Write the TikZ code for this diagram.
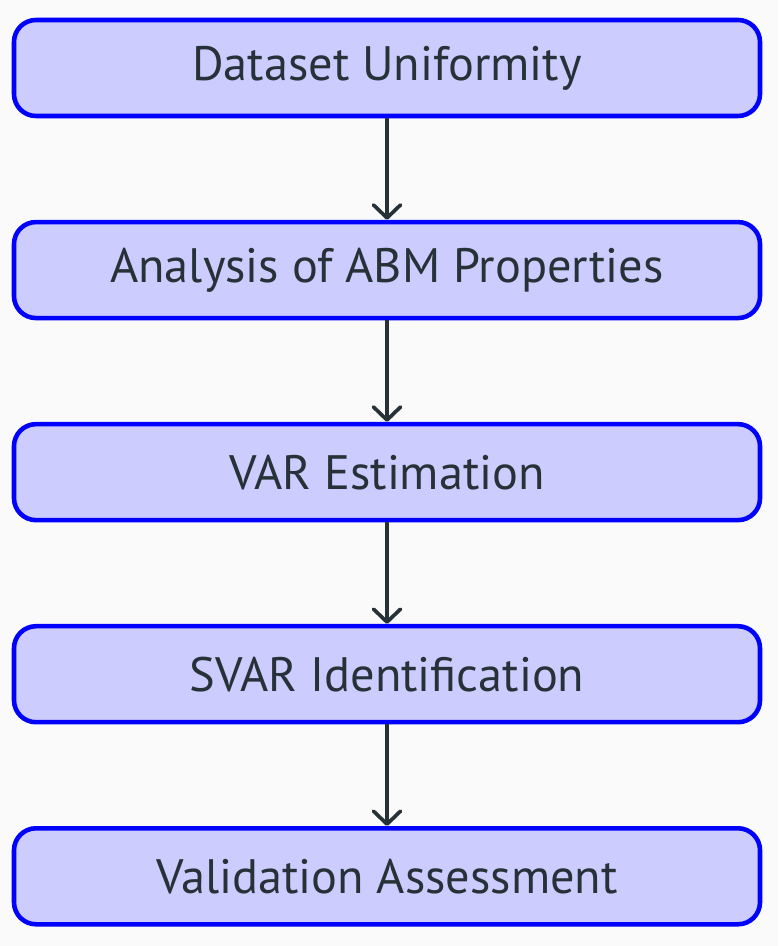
\documentclass[tikz,border=0pt]{standalone}
\usepackage{fontspec}
\setmainfont{PT Sans}
\usepackage{tikz}
\usetikzlibrary{arrows.meta,positioning}
\definecolor{bgcol}{HTML}{FAFAFA}
\definecolor{inkcol}{HTML}{263238}

\begin{document}
\begin{tikzpicture}[
    stagebox/.style={draw=blue, line width=2.6pt, fill=blue!20, rounded corners=0.44cm,
      minimum width=14.92cm, minimum height=1.92cm, font=\fontsize{27.5}{32}\selectfont,
      text=inkcol},
    flowarrow/.style={draw=inkcol, line width=2.1pt,
      -{Straight Barb[length=2.6mm, width=5.4mm, round]}},
    node distance=2.03cm
  ]
  %% canvas
  \fill[bgcol] (0,0) rectangle (15.56,-18.92);
  \useasboundingbox (0,0) rectangle (15.56,-18.92);

  %% stages
  \node[stagebox] (uniform) at (7.74,-1.36) {Dataset Uniformity};
  \node[stagebox, below=of uniform] (abm) {Analysis of ABM Properties};
  \node[stagebox, below=of abm] (var) {VAR Estimation};
  \node[stagebox, below=of var] (svar) {SVAR Identification};
  \node[stagebox, below=of svar] (valid) {Validation Assessment};

  %% arrows
  \draw[flowarrow] (uniform) -- (abm);
  \draw[flowarrow] (abm) -- (var);
  \draw[flowarrow] (var) -- (svar);
  \draw[flowarrow] (svar) -- (valid);
\end{tikzpicture}
\end{document}
